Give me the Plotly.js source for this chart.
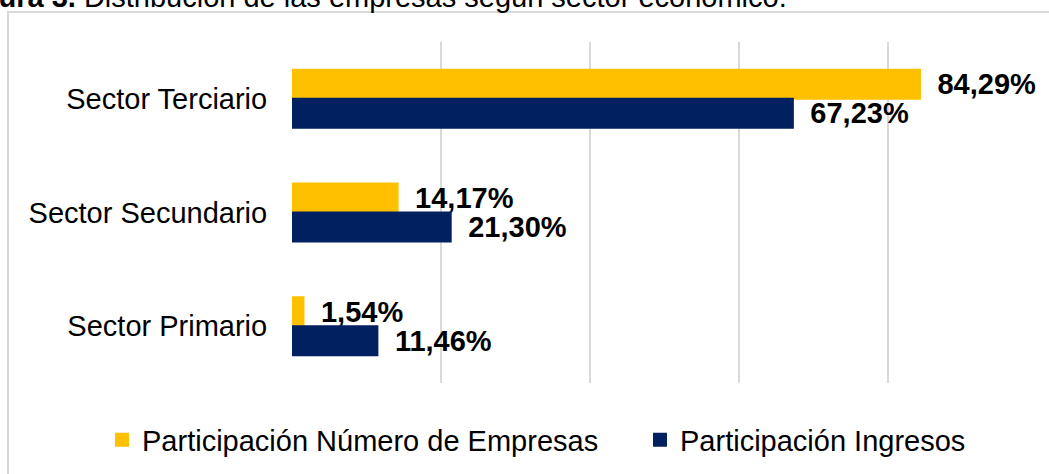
<!DOCTYPE html>
<html>
<head>
<meta charset="utf-8">
<script src="https://cdn.plot.ly/plotly-3.0.1.min.js"></script>
<style>
  html, body { margin: 0; padding: 0; background: #fff; }
  #chart { width: 1049px; height: 474px; }
</style>
</head>
<body>
<div id="chart"></div>
<script>
const categories = ['Sector Terciario', 'Sector Secundario', 'Sector Primario'];
const seriesNames = ['Participación Número de Empresas', 'Participación Ingresos'];
const empresas = [84.29, 14.17, 1.54];
const ingresos = [67.23, 21.30, 11.46];
const xTicks = [0, 20, 40, 60, 80, 100];
const titleText = '<b>Figura 3.</b> Distribución de las empresas según sector económico.';

const FONT = 'Liberation Sans, Arial, sans-serif';
const fmt = v => '\u2002' + v.toFixed(2).replace('.', ',') + '%';

const W = 1049, H = 474;
const L = 292, R = 12, T = 42, B = 91;
const pw = W - L - R, ph = H - T - B;
const px2x = p => (p - L) / pw;
const py2y = p => (H - B - p) / ph;

const YELLOW = '#FFC000', NAVY = '#002060';

const barCommon = {
  type: 'bar', orientation: 'h', y: categories,
  textposition: 'outside', cliponaxis: false, constraintext: 'none',
  textfont: { family: FONT, size: 29, color: '#000', weight: 'bold' },
  hoverinfo: 'none'
};

const traces = [
  Object.assign({}, barCommon, {
    name: seriesNames[0], x: empresas, text: empresas.map(fmt),
    marker: { color: YELLOW, line: { color: YELLOW, width: 2 } }, legend: 'legend'
  }),
  Object.assign({}, barCommon, {
    name: seriesNames[1], x: ingresos, text: ingresos.map(fmt),
    marker: { color: NAVY, line: { color: NAVY, width: 2 } }, legend: 'legend2'
  })
];

const legendCommon = {
  orientation: 'h', xanchor: 'left', xref: 'paper', yref: 'paper',
  y: py2y(440), yanchor: 'middle',
  bgcolor: 'rgba(0,0,0,0)',
  font: { family: FONT, size: 29, color: '#000' },
  itemclick: false
};

const layout = {
  width: W, height: H,
  margin: { l: L, r: R, t: T, b: B, pad: 0, autoexpand: false },
  paper_bgcolor: '#fff', plot_bgcolor: '#fff',
  font: { family: FONT, size: 29, color: '#000' },
  barmode: 'group', bargap: 0.49, bargroupgap: 0,
  showlegend: true,
  legend: Object.assign({}, legendCommon, { x: px2x(102) }),
  legend2: Object.assign({}, legendCommon, { x: px2x(640) }),
  xaxis: {
    range: [0, 100], tickvals: xTicks, showticklabels: false,
    showgrid: true, gridcolor: '#d9d9d9', gridwidth: 1.5,
    zeroline: false, showline: false, ticks: '', fixedrange: true
  },
  yaxis: {
    type: 'category', autorange: 'reversed',
    showgrid: false, zeroline: false, showline: false,
    ticks: 'outside', ticklen: 18, tickcolor: 'rgba(0,0,0,0)',
    tickfont: { family: FONT, size: 29, color: '#000' }, fixedrange: true
  },
  shapes: [{
    type: 'rect', xref: 'paper', yref: 'paper',
    x0: px2x(8), x1: px2x(W + 6), y0: py2y(H + 6), y1: py2y(12),
    line: { color: '#d9d9d9', width: 2 }, fillcolor: 'rgba(0,0,0,0)', layer: 'below'
  }],
  annotations: [{
    text: titleText, xref: 'paper', yref: 'paper',
    x: px2x(-47), xanchor: 'left', y: py2y(-2.5), yanchor: 'middle',
    showarrow: false, font: { family: FONT, size: 29, color: '#000' }
  }]
};

Plotly.newPlot('chart', traces, layout, { staticPlot: true, displayModeBar: false });
</script>
</body>
</html>
